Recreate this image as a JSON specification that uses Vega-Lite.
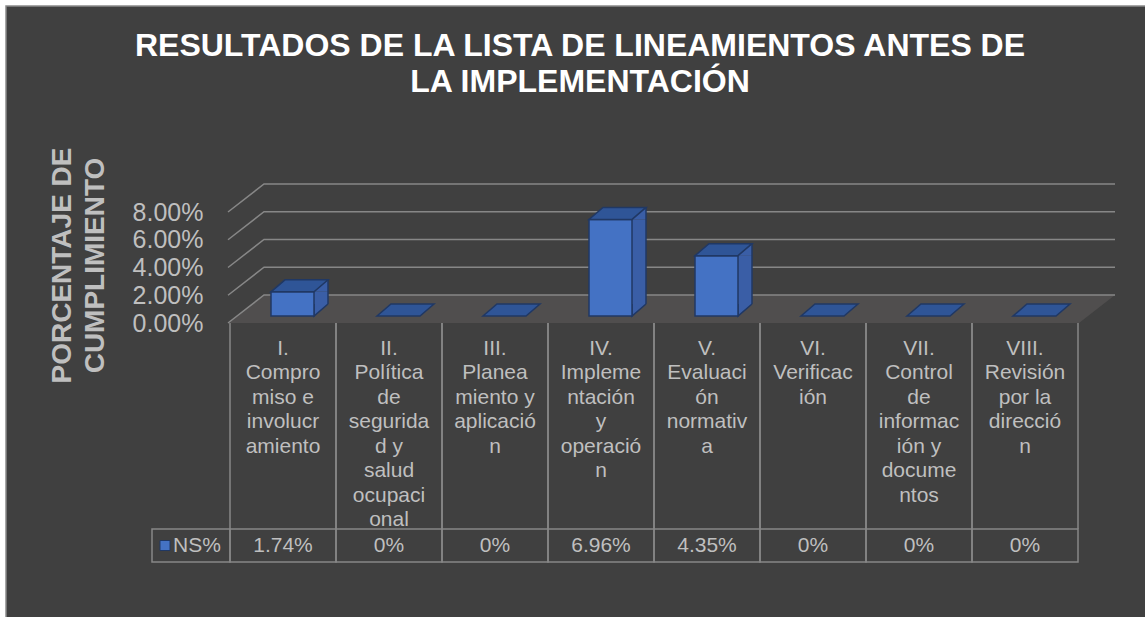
{
  "$schema": "https://vega.github.io/schema/vega-lite/v6.json",
  "width": 1140,
  "height": 612,
  "autosize": {"type": "none"},
  "padding": {"left": 6, "top": 6, "right": 0, "bottom": 0},
  "background": "#ffffff",
  "title": {
    "text": ["RESULTADOS DE LA LISTA DE LINEAMIENTOS ANTES DE", "LA IMPLEMENTACIÓN"],
    "fontSize": 32,
    "fontWeight": "bold",
    "color": "#ffffff",
    "font": "Liberation Sans",
    "lineHeight": 36,
    "anchor": "middle",
    "frame": "group",
    "offset": -93,
    "dx": 4
  },
  "config": {
    "view": {"fill": "#404040", "stroke": "#8a8a8a", "strokeWidth": 1.5},
    "font": "Liberation Sans",
    "axisX": {
      "domain": false,
      "ticks": false,
      "grid": false,
      "labelAngle": 0,
      "labelBaseline": "top",
      "labelPadding": 14,
      "labelFontSize": 21,
      "labelLineHeight": 24.5,
      "labelColor": "#bfbfbf",
      "labelFont": "Liberation Sans",
      "labelLimit": 300,
      "labelOverlap": false,
      "labelBound": false,
      "offset": -295,
      "labelExpr": "{'I. Compromiso e involucramiento': ['I.', 'Compro', 'miso e', 'involucr', 'amiento'], 'II. Política de seguridad y salud ocupacional': ['II.', 'Política', 'de', 'segurida', 'd y', 'salud', 'ocupaci', 'onal'], 'III. Planeamiento y aplicación': ['III.', 'Planea', 'miento y', 'aplicació', 'n'], 'IV. Implementación y operación': ['IV.', 'Impleme', 'ntación', 'y', 'operació', 'n'], 'V. Evaluación normativa': ['V.', 'Evaluaci', 'ón', 'normativ', 'a'], 'VI. Verificación': ['VI.', 'Verificac', 'ión'], 'VII. Control de información y documentos': ['VII.', 'Control', 'de', 'informac', 'ión y', 'docume', 'ntos'], 'VIII. Revisión por la dirección': ['VIII.', 'Revisión', 'por la', 'direcció', 'n']}[datum.value]"
    },
    "axisY": {
      "domain": false,
      "ticks": false,
      "grid": false,
      "offset": -202,
      "labelPadding": 5,
      "labelFontSize": 25,
      "labelColor": "#bfbfbf",
      "labelFont": "Liberation Sans",
      "labelOverlap": false,
      "tickCount": 5,
      "titleFont": "Liberation Sans",
      "titleFontSize": 28,
      "titleFontWeight": "bold",
      "titleColor": "#bfbfbf",
      "titleAngle": -90,
      "titleAlign": "center",
      "titleBaseline": "top",
      "titleLineHeight": 33,
      "titleX": -160,
      "titleY": 259
    }
  },
  "datasets": {
    "ns": [
      {"categoria": "I. Compromiso e involucramiento", "ns": 0.0174},
      {"categoria": "II. Política de seguridad y salud ocupacional", "ns": 0},
      {"categoria": "III. Planeamiento y aplicación", "ns": 0},
      {"categoria": "IV. Implementación y operación", "ns": 0.0696},
      {"categoria": "V. Evaluación normativa", "ns": 0.0435},
      {"categoria": "VI. Verificación", "ns": 0},
      {"categoria": "VII. Control de información y documentos", "ns": 0},
      {"categoria": "VIII. Revisión por la dirección", "ns": 0}
    ],
    "ticks": [
      {"tick": 0},
      {"tick": 0.02},
      {"tick": 0.04},
      {"tick": 0.06},
      {"tick": 0.08}
    ]
  },
  "layer": [
    {
      "data": {"name": "ticks"},
      "transform": [{"filter": "datum.tick == 0"}],
      "mark": {"type": "point", "shape": "M -55 0 L 796 0 L 832 -28 L -19 -28 Z", "size": 4, "filled": true, "fill": "#504e4e", "strokeWidth": 0, "opacity": 1},
      "encoding": {
        "x": {"datum": "I. Compromiso e involucramiento", "type": "nominal", "scale": {"domain": ["I. Compromiso e involucramiento", "II. Política de seguridad y salud ocupacional", "III. Planeamiento y aplicación", "IV. Implementación y operación", "V. Evaluación normativa", "VI. Verificación", "VII. Control de información y documentos", "VIII. Revisión por la dirección"], "range": [224, 1072], "paddingInner": 0, "paddingOuter": 0}},
        "y": {"field": "tick", "type": "quantitative", "scale": {"domain": [0, 0.08], "range": [317, 206], "nice": false, "zero": false}, "axis": {"format": ".2%", "title": ["PORCENTAJE DE", "CUMPLIMIENTO"]}}
      }
    },
    {
      "data": {"name": "ticks"},
      "mark": {"type": "point", "shape": "M -55 0 L -19 -28 L 832 -28", "size": 4, "filled": false, "stroke": "#878787", "strokeWidth": 1.5, "opacity": 1},
      "encoding": {
        "x": {"datum": "I. Compromiso e involucramiento", "type": "nominal"},
        "y": {"field": "tick", "type": "quantitative", "axis": {"format": ".2%", "title": ["PORCENTAJE DE", "CUMPLIMIENTO"]}}
      }
    },
    {
      "data": {"name": "ns"},
      "mark": {"type": "rule", "y2Offset": 206, "stroke": "#878787", "strokeWidth": 1.5},
      "encoding": {
        "x": {"field": "categoria", "type": "nominal", "bandPosition": 0, "title": null},
        "y": {"datum": 0, "type": "quantitative"},
        "y2": {"datum": 0}
      }
    },
    {
      "data": {"name": "ns"},
      "mark": {"type": "rule", "y2Offset": 206, "stroke": "#878787", "strokeWidth": 1.5},
      "encoding": {
        "x": {"field": "categoria", "type": "nominal", "bandPosition": 1, "title": null},
        "y": {"datum": 0, "type": "quantitative"},
        "y2": {"datum": 0}
      }
    },
    {
      "data": {"name": "ns"},
      "mark": {"type": "bar", "yOffset": 206, "y2Offset": 239, "fill": "#404040", "fillOpacity": 0, "stroke": "#878787", "strokeWidth": 1.5},
      "encoding": {
        "x": {"field": "categoria", "type": "nominal", "title": null},
        "y": {"datum": 0, "type": "quantitative"},
        "y2": {"datum": 0}
      }
    },
    {
      "data": {"name": "ns"},
      "transform": [{"filter": "datum.categoria == 'I. Compromiso e involucramiento'"}],
      "mark": {"type": "bar", "width": 78, "xOffset": -92, "yOffset": 206, "y2Offset": 239, "fill": "#404040", "fillOpacity": 0, "stroke": "#878787", "strokeWidth": 1.5},
      "encoding": {
        "x": {"field": "categoria", "type": "nominal", "title": null},
        "y": {"datum": 0, "type": "quantitative"},
        "y2": {"datum": 0}
      }
    },
    {
      "data": {"name": "ns"},
      "transform": [{"filter": "datum.categoria == 'I. Compromiso e involucramiento'"}],
      "mark": {"type": "point", "shape": "square", "size": 100, "xOffset": -118, "yOffset": 222.5, "filled": true, "fill": "#4472c4", "stroke": "#203864", "strokeWidth": 1, "opacity": 1},
      "encoding": {
        "x": {"field": "categoria", "type": "nominal", "title": null},
        "y": {"datum": 0, "type": "quantitative"}
      }
    },
    {
      "data": {"name": "ns"},
      "transform": [{"filter": "datum.categoria == 'I. Compromiso e involucramiento'"}],
      "mark": {"type": "text", "xOffset": -110, "yOffset": 222.5, "align": "left", "baseline": "middle", "fontSize": 21, "font": "Liberation Sans", "color": "#bfbfbf"},
      "encoding": {
        "x": {"field": "categoria", "type": "nominal", "title": null},
        "y": {"datum": 0, "type": "quantitative"},
        "text": {"value": "NS%"}
      }
    },
    {
      "data": {"name": "ns"},
      "mark": {"type": "text", "yOffset": 222.5, "align": "center", "baseline": "middle", "fontSize": 21, "font": "Liberation Sans", "color": "#bfbfbf"},
      "encoding": {
        "x": {"field": "categoria", "type": "nominal", "title": null},
        "y": {"datum": 0, "type": "quantitative"},
        "text": {"field": "ns", "type": "quantitative", "format": ".2~%"}
      }
    },
    {
      "data": {"name": "ns"},
      "transform": [{"filter": "datum.ns > 0"}],
      "mark": {"type": "bar", "width": 14, "xOffset": 38, "yOffset": -7, "y2Offset": -19, "fill": "#3a5ea6", "strokeWidth": 0},
      "encoding": {
        "x": {"field": "categoria", "type": "nominal", "title": null},
        "y": {"field": "ns", "type": "quantitative", "axis": {"format": ".2%", "title": ["PORCENTAJE DE", "CUMPLIMIENTO"]}},
        "y2": {"datum": 0}
      }
    },
    {
      "data": {"name": "ns"},
      "transform": [{"filter": "datum.ns > 0"}],
      "mark": {"type": "point", "shape": "M 31 0 L 45 -12 L 45 0 Z", "size": 4, "yOffset": -7, "filled": true, "fill": "#3a5ea6", "strokeWidth": 0, "opacity": 1},
      "encoding": {
        "x": {"field": "categoria", "type": "nominal", "title": null},
        "y": {"field": "ns", "type": "quantitative", "axis": {"format": ".2%", "title": ["PORCENTAJE DE", "CUMPLIMIENTO"]}}
      }
    },
    {
      "data": {"name": "ns"},
      "transform": [{"filter": "datum.ns > 0"}],
      "mark": {"type": "point", "shape": "M 31 -12 L 31 0 L 45 -12", "size": 4, "yOffset": -7, "filled": true, "fill": "#3a5ea6", "stroke": "#203864", "strokeWidth": 1.5, "opacity": 1},
      "encoding": {
        "x": {"field": "categoria", "type": "nominal", "title": null},
        "y": {"datum": 0, "type": "quantitative"}
      }
    },
    {
      "data": {"name": "ns"},
      "transform": [{"filter": "datum.ns > 0"}],
      "mark": {"type": "rule", "xOffset": 45, "yOffset": -19, "y2Offset": -19, "stroke": "#203864", "strokeWidth": 1.5},
      "encoding": {
        "x": {"field": "categoria", "type": "nominal", "title": null},
        "y": {"field": "ns", "type": "quantitative", "axis": {"format": ".2%", "title": ["PORCENTAJE DE", "CUMPLIMIENTO"]}},
        "y2": {"datum": 0}
      }
    },
    {
      "data": {"name": "ns"},
      "transform": [{"filter": "datum.ns > 0"}],
      "mark": {"type": "bar", "width": 43, "xOffset": 9.5, "yOffset": -7, "y2Offset": -7, "fill": "#4472c4", "stroke": "#203864", "strokeWidth": 1.5},
      "encoding": {
        "x": {"field": "categoria", "type": "nominal", "title": null},
        "y": {"field": "ns", "type": "quantitative", "axis": {"format": ".2%", "title": ["PORCENTAJE DE", "CUMPLIMIENTO"]}},
        "y2": {"datum": 0}
      }
    },
    {
      "data": {"name": "ns"},
      "mark": {"type": "point", "shape": "M -12 0 L 31 0 L 45 -12 L 2 -12 Z", "size": 4, "yOffset": -7, "filled": true, "fill": "#2f5597", "stroke": "#203864", "strokeWidth": 1.5, "opacity": 1},
      "encoding": {
        "x": {"field": "categoria", "type": "nominal", "title": null},
        "y": {"field": "ns", "type": "quantitative", "axis": {"format": ".2%", "title": ["PORCENTAJE DE", "CUMPLIMIENTO"]}}
      }
    }
  ]
}
